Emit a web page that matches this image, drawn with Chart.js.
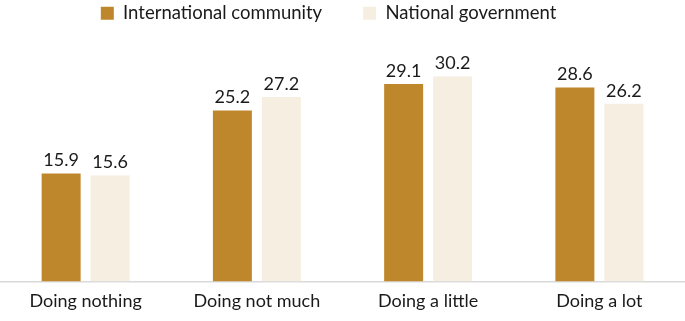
<!DOCTYPE html>
<html><head><meta charset="utf-8">
<script src="https://cdn.jsdelivr.net/npm/chart.js@4/dist/chart.umd.min.js"></script>
<style>html,body{margin:0;padding:0;background:#fff;}#wrap{width:685px;height:321px;}</style>
</head><body><div id="wrap"><canvas id="c" width="685" height="321"></canvas></div>
<script>
const categories = ["Doing nothing", "Doing not much", "Doing a little", "Doing a lot"];
const internationalCommunity = [15.9, 25.2, 29.1, 28.6];
const nationalGovernment = [15.6, 27.2, 30.2, 26.2];
const seriesNames = ["International community", "National government"];

const FONT = "Lato, 'Open Sans', sans-serif";
const labelPlugin = {
  id: 'vlabels',
  afterDatasetsDraw(chart) {
    const ctx = chart.ctx;
    ctx.save();
    ctx.font = "18px " + FONT;
    ctx.fillStyle = "#1a1a1a";
    ctx.textAlign = "center";
    ctx.textBaseline = "bottom";
    chart.data.datasets.forEach((ds, i) => {
      chart.getDatasetMeta(i).data.forEach((bar, j) => {
        ctx.fillText(ds.data[j].toFixed(1), bar.x, bar.y - 4);
      });
    });
    ctx.restore();
  }
};

new Chart(document.getElementById('c'), {
  type: 'bar',
  data: {
    labels: categories,
    datasets: [
      {label: seriesNames[0], data: internationalCommunity, backgroundColor: '#BF872C', borderWidth: 0, categoryPercentage: 0.572, barPercentage: 0.796},
      {label: seriesNames[1], data: nationalGovernment, backgroundColor: '#F6EEE0', borderWidth: 0, categoryPercentage: 0.572, barPercentage: 0.796}
    ]
  },
  options: {
    responsive: false,
    animation: false,
    layout: {padding: {left: 0, right: 0, top: 0, bottom: 0}},
    plugins: {
      legend: {
        position: 'top',
        labels: {boxWidth: 13, boxHeight: 13, padding: 4, color: '#1a1a1a', font: {family: FONT, size: 18.5},
          generateLabels(chart) {
            const items = Chart.defaults.plugins.legend.labels.generateLabels(chart);
            items.forEach((it, i) => {
              if (i < items.length - 1) it.text = it.text + '\u2003\u2003\u2002';
              else it.text = it.text + '\u2003\u2003';
            });
            return items;
          }
        }
      },
      tooltip: {enabled: false}
    },
    scales: {
      x: {
        grid: {display: false, drawTicks: false},
        border: {display: true, color: '#D9D9D9', width: 1.5},
        ticks: {color: '#1a1a1a', font: {family: FONT, size: 18}, padding: 9}
      },
      y: {display: false, min: 0, max: 36.7}
    }
  },
  plugins: [labelPlugin]
});
</script></body></html>
